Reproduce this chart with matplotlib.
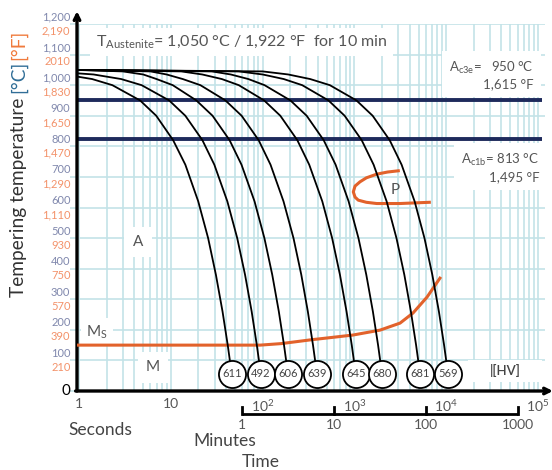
import numpy as np
import matplotlib
matplotlib.use('Agg')
import matplotlib.pyplot as plt
import matplotlib.transforms as mtransforms
from matplotlib.ticker import LogLocator, NullFormatter
from matplotlib.patches import Rectangle

plt.rcParams['font.family'] = ['Lato', 'DejaVu Sans']
plt.rcParams['mathtext.fontset'] = 'custom'
plt.rcParams['mathtext.rm'] = 'Lato'
plt.rcParams['mathtext.it'] = 'Lato'

# temperature levels (deg C) that the cooling curves pass through
cool_temps = [1050, 1045, 1035, 1020, 1000, 950, 900, 820, 740, 620, 500, 380, 260, 150, 56]
# time (s) at which each curve reaches those levels
cool_times = {
    611: [0.1, 0.23, 0.69, 1.39, 2.31, 4.63, 6.94, 10.6, 14.4, 19.9, 25.5, 31.0, 36.6, 41.7, 46.1],
    492: [0.2, 0.48, 1.44, 2.88, 4.81, 9.6, 14.4, 22.1, 29.8, 41.3, 52.9, 64.4, 76.0, 86.5, 95.6],
    606: [0.9, 3.0, 5.0, 7.0, 10.5, 19.0, 28.5, 43.7, 58.9, 81.7, 104.6, 127.4, 150.2, 171.1, 189],
    639: [0.9, 6.0, 9.0, 13.5, 21, 39.4, 59.1, 90.6, 122, 169, 217, 264, 311, 354, 391],
    645: [0.9, 13, 22, 36, 55, 104, 156, 239, 322, 447, 572, 696, 821, 936, 1033],
    680: [0.9, 28, 45, 70, 105, 201, 302, 463, 624, 865, 1107, 1348, 1590, 1811, 2000],
    681: [0.9, 55, 100, 170, 270, 522, 783, 1201, 1619, 2245, 2872, 3499, 4125, 4700, 5190],
    569: [0.9, 100, 190, 330, 540, 1054, 1581, 2424, 3267, 4531, 5796, 7060, 8325, 9484, 10470],
}

# martensite start line
ms_time = [0.9, 94, 160, 328, 966, 1901, 3143, 4350, 6180, 8550]
ms_temp = [150, 150, 155, 167, 183, 199, 222, 255, 307, 369]

# pearlite nose
p_time = [3008, 2300, 1750, 1350, 1151, 1016, 973, 1016, 1102, 1350, 1750, 3139, 6549]
p_temp = [720, 716, 709, 697, 684, 670, 651, 634, 624, 617, 613, 613, 617]

ac3e_line = 950
ac1b_line = 825

c_labels = ['1,200', '1,100', '1,000', '900', '800', '700', '600', '500', '400', '300', '200', '100']
f_labels = ['2,190', '2010', '1,830', '1,650', '1,470', '1,290', '1,110', '930', '750', '570', '390', '210']
c_values = [1200, 1100, 1000, 900, 800, 700, 600, 500, 400, 300, 200, 100]

sec_ticks = [1, 10, 100, 1000, 10000, 100000]
sec_labels = ['1', '10', '10$^2$', '10$^3$', '10$^4$', '10$^5$']
min_ticks = [1, 10, 100, 1000]

grid_col = '#c3e3e8'
txt_col = '#555555'
orange = '#e2622b'
navy = '#1e2a5c'

fig = plt.figure(figsize=(5.52, 4.70), dpi=100)
ax = fig.add_axes([77/552, 1-391/470, (545-77)/552, (391-24)/470])
ax.set_xscale('log')
ax.set_xlim(0.951, 119200)
ax.set_ylim(0, 1200)

ax.xaxis.set_minor_locator(LogLocator(base=10, subs=np.arange(2, 10)))
ax.xaxis.set_minor_formatter(NullFormatter())
ax.set_xticks(sec_ticks)
ax.set_xticklabels(sec_labels, fontsize=10, color=txt_col)
ax.set_yticks(np.arange(0, 1201, 100))
ax.set_yticklabels([])
ax.tick_params(axis='x', which='both', length=0, pad=5)
ax.tick_params(axis='y', length=5, color=grid_col, width=1.2)
ax.grid(which='both', color=grid_col, lw=1.2)
for s in ['top', 'right', 'left', 'bottom']:
    ax.spines[s].set_visible(False)

# axes with arrows
ax.annotate('', xy=(0, 1.035), xytext=(0, 0), xycoords='axes fraction',
            arrowprops=dict(arrowstyle='->', lw=2.4, color='black', shrinkA=0, shrinkB=0),
            annotation_clip=False)
ax.annotate('', xy=(1.017, 0), xytext=(-0.003, 0), xycoords='axes fraction',
            arrowprops=dict(arrowstyle='->', lw=2.4, color='black', shrinkA=0, shrinkB=0),
            annotation_clip=False)

# y labels, deg C above each grid line, deg F below
ylab = mtransforms.blended_transform_factory(ax.transAxes, ax.transData)
up = mtransforms.offset_copy(ylab, fig=fig, y=7, units='dots')
down = mtransforms.offset_copy(ylab, fig=fig, y=-7, units='dots')
for v, cl, fl in zip(c_values, c_labels, f_labels):
    ax.text(-0.014, v, cl, transform=up, ha='right', va='center', fontsize=8, color='#8088ad')
    ax.text(-0.014, v, fl, transform=down, ha='right', va='center', fontsize=8, color='#f3926a')
ax.text(-0.014, 0, '0', transform=ylab, ha='right', va='center', fontsize=11, color='black')

# critical temperatures
ax.hlines([ac3e_line, ac1b_line], 0.951, 1.1e5, color=navy, lw=2.8, zorder=2)

# cooling curves with hardness circles
for hv, times in cool_times.items():
    ax.plot(times, cool_temps, color='black', lw=1.3, zorder=3.3)
    ax.plot(times[-1], cool_temps[-1], 'o', ms=19.5, mfc='white', mec='black', mew=1.3, zorder=4)
    ax.text(times[-1], cool_temps[-1], str(hv), ha='center', va='center', fontsize=8,
            color='#444444', zorder=5)

ax.plot(ms_time, ms_temp, color=orange, lw=2.2, zorder=3.2)
ax.plot(p_time, p_temp, color=orange, lw=2.2, zorder=3.2)

box = dict(fc='white', ec='none', pad=4)
ax.text(1.53, 1141, 'T$_\\mathrm{Austenite}$= 1,050 °C / 1,922 °F  for 10 min', fontsize=11.5,
        color=txt_col, ha='left', va='center', bbox=box)
ax.text(4.4, 487, 'A', fontsize=11, color=txt_col, ha='center', va='center',
        bbox=dict(fc='white', ec='none', pad=6))
ax.text(1.2, 193, 'M$_\\mathrm{S}$', fontsize=11, color=txt_col, ha='left', va='center',
        bbox=dict(fc='white', ec='none', pad=4))
ax.text(6.4, 78, 'M', fontsize=11, color=txt_col, ha='center', va='center',
        bbox=dict(fc='white', ec='none', pad=6))
ax.text(2770, 657, 'P', fontsize=11, color=txt_col, ha='center', va='center')
ax.text(90000, 1033, 'A$_\\mathrm{c3e}$=   950 °C\n1,615 °F', fontsize=9.5, color=txt_col,
        ha='right', va='center', multialignment='right', linespacing=1.25,
        bbox=dict(fc='white', ec='none', pad=5))
ax.text(104000, 731, 'A$_\\mathrm{c1b}$= 813 °C\n1,495 °F', fontsize=9.5, color=txt_col,
        ha='right', va='center', multialignment='right', linespacing=1.25,
        bbox=dict(fc='white', ec='none', pad=5))
ax.add_patch(Rectangle((17270, 29), 110600 - 17270, 72, fc='white', ec='none', zorder=2.6))
ax.text(43700, 68, '|[HV]', fontsize=9.5, color='#444444', ha='center', va='center',
        fontweight='semibold', zorder=3)

# minutes bracket below the axis
br = mtransforms.blended_transform_factory(ax.transData, ax.transAxes)
min_sec = [m * 60 for m in min_ticks]
ax.plot([min_sec[0], min_sec[-1]], [-0.0627, -0.0627], color='black', lw=2, transform=br,
        clip_on=False, solid_capstyle='butt')
for m, s in zip(min_ticks, min_sec):
    ax.plot([s, s], [-0.0436, -0.0627], color='black', lw=2, transform=br, clip_on=False)
    ax.text(s, -0.094, str(m), transform=br, ha='center', va='center', fontsize=10, color=txt_col)

fig.text(100/552, 1-430/470, 'Seconds', fontsize=12.5, color='#444444', ha='center', va='center')
fig.text(225/552, 1-441/470, 'Minutes', fontsize=12.5, color='#444444', ha='center', va='center')
fig.text(261/552, 1-462/470, 'Time', fontsize=12.5, color='#444444', ha='center', va='center')

# y axis title in three colours
fig.canvas.draw()
rend = fig.canvas.get_renderer()
ypos = 470 - 297
for s, c in [('Tempering temperature ', '#333333'), ('[°C]', '#2f6d96'), ('[°F]', '#f07a3c')]:
    t = fig.text(19/552, ypos/470, s, rotation=90, ha='center', va='bottom', fontsize=13.8, color=c)
    ypos += t.get_window_extent(rend).height

fig.savefig('out.png', dpi=100)
